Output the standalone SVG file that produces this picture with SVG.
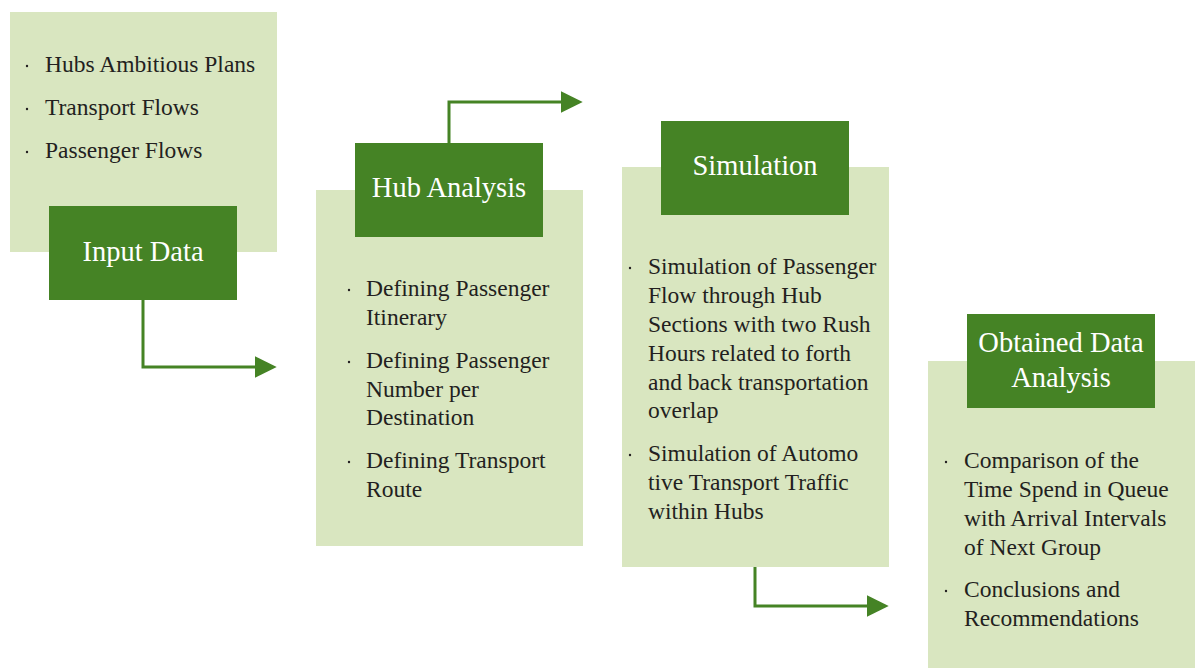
<svg xmlns="http://www.w3.org/2000/svg" width="1201" height="668" viewBox="0 0 1201 668">
<style>
.panel{fill:#d9e6c0}
.head{fill:#458325}
.ht{font-family:"Liberation Serif",serif;font-size:28.5px;fill:#ffffff;text-anchor:middle}
.bt{font-family:"Liberation Serif",serif;font-size:23.5px;fill:#231f20}
.dot{fill:#231f20}
.conn{fill:none;stroke:#458325;stroke-width:3}
</style>
<defs>
<marker id="ah" viewBox="0 0 10 10" refX="1" refY="5" markerWidth="7.3" markerHeight="8.3" markerUnits="strokeWidth" orient="auto">
<path d="M0,0 L10,5 L0,10 Z" fill="#458325"/>
</marker>
</defs>
<rect x="0" y="0" width="1201" height="668" fill="#ffffff"/>
<g id="connectors">
<polyline class="conn" points="143,300 143,367 257,367" marker-end="url(#ah)"/>
<polyline class="conn" points="449,143 449,102 563,102" marker-end="url(#ah)"/>
<polyline class="conn" points="755,567 755,606 869,606" marker-end="url(#ah)"/>
</g>
<g id="input-data">
<rect class="panel" x="10" y="12" width="267" height="240"/>
<circle class="dot" cx="27" cy="66" r="1.2"/>
<circle class="dot" cx="27" cy="109" r="1.2"/>
<circle class="dot" cx="27" cy="152" r="1.2"/>
<text class="bt" x="45" y="72">Hubs Ambitious Plans</text>
<text class="bt" x="45" y="115">Transport Flows</text>
<text class="bt" x="45" y="158">Passenger Flows</text>
<rect class="head" x="49" y="206" width="188" height="94"/>
<text class="ht" x="143" y="261">Input Data</text>
</g>
<g id="hub-analysis">
<rect class="panel" x="316" y="190" width="267" height="356"/>
<rect class="head" x="355" y="143" width="188" height="94"/>
<text class="ht" x="449" y="197">Hub Analysis</text>
<circle class="dot" cx="349" cy="290" r="1.2"/>
<circle class="dot" cx="349" cy="362" r="1.2"/>
<circle class="dot" cx="349" cy="462" r="1.2"/>
<text class="bt" x="366" y="296">Defining Passenger</text>
<text class="bt" x="366" y="325">Itinerary</text>
<text class="bt" x="366" y="368">Defining Passenger</text>
<text class="bt" x="366" y="397">Number per</text>
<text class="bt" x="366" y="425">Destination</text>
<text class="bt" x="366" y="468">Defining Transport</text>
<text class="bt" x="366" y="497">Route</text>
</g>
<g id="simulation">
<rect class="panel" x="622" y="167" width="267" height="400"/>
<rect class="head" x="661" y="121" width="188" height="94"/>
<text class="ht" x="755" y="175">Simulation</text>
<circle class="dot" cx="630" cy="268" r="1.2"/>
<circle class="dot" cx="630" cy="455" r="1.2"/>
<text class="bt" x="648" y="274">Simulation of Passenger</text>
<text class="bt" x="648" y="303">Flow through Hub</text>
<text class="bt" x="648" y="332">Sections with two Rush</text>
<text class="bt" x="648" y="361">Hours related to forth</text>
<text class="bt" x="648" y="390">and back transportation</text>
<text class="bt" x="648" y="418">overlap</text>
<text class="bt" x="648" y="461">Simulation of Automo</text>
<text class="bt" x="648" y="490">tive Transport Traffic</text>
<text class="bt" x="648" y="519">within Hubs</text>
</g>
<g id="obtained-data-analysis">
<rect class="panel" x="928" y="361" width="267" height="307"/>
<rect class="head" x="967" y="314" width="188" height="94"/>
<text class="ht" x="1061" y="352">Obtained Data</text>
<text class="ht" x="1061" y="387">Analysis</text>
<circle class="dot" cx="946" cy="462" r="1.2"/>
<circle class="dot" cx="946" cy="591" r="1.2"/>
<text class="bt" x="964" y="468">Comparison of the</text>
<text class="bt" x="964" y="497">Time Spend in Queue</text>
<text class="bt" x="964" y="526">with Arrival Intervals</text>
<text class="bt" x="964" y="555">of Next Group</text>
<text class="bt" x="964" y="597">Conclusions and</text>
<text class="bt" x="964" y="626">Recommendations</text>
</g>
</svg>
